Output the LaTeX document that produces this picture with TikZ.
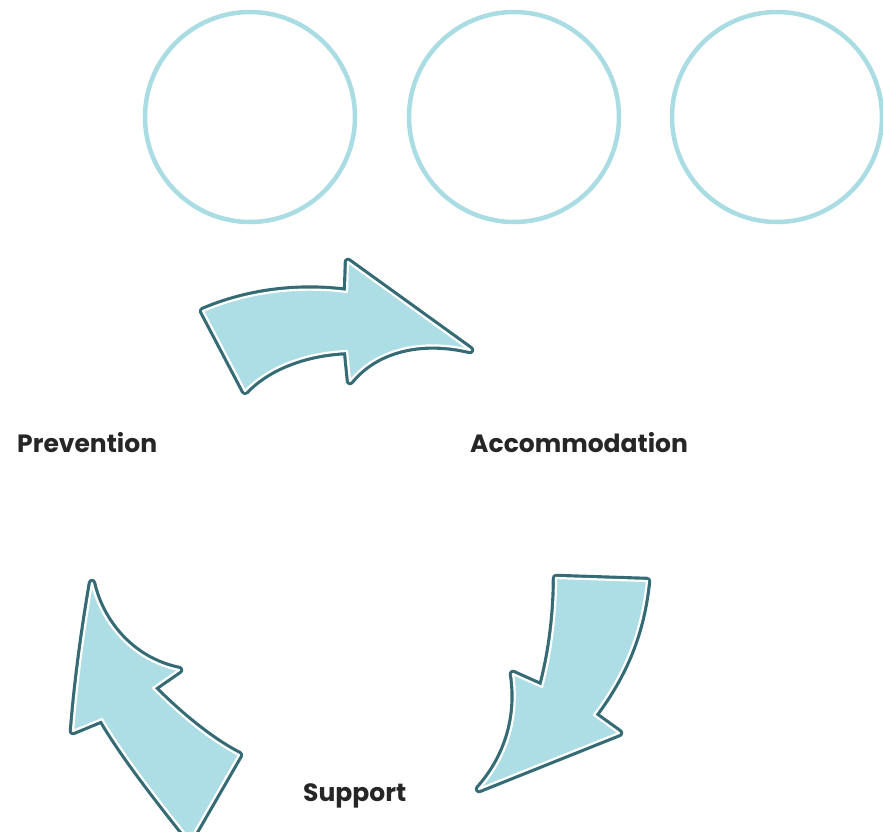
\documentclass[tikz,border=0pt]{standalone}
\usepackage{fontspec}
\setmainfont{Poppins}
\definecolor{ringblue}{HTML}{A9DCE3}
\definecolor{arrowfill}{HTML}{ADDEE5}
\definecolor{arrowedge}{HTML}{356B75}
\tikzset{
  ring/.style={circle, draw=ringblue, line width=4.5pt, minimum size=210pt, inner sep=0pt},
  label/.style={font=\fontsize{25}{29}\selectfont\bfseries, text=black!85, inner sep=0pt},
  arrowouter/.style={draw=arrowedge, line width=8.5pt, line join=round},
  arrowinner/.style={fill=arrowfill, draw=white, line width=2.2pt, line join=round}
}
\begin{document}
\begin{tikzpicture}[x=1pt,y=-1pt]
\useasboundingbox (0,0) rectangle (883,832);
\begin{scope}
\clip (0,0) rectangle (883,832);
\node[ring] (c1) at (250,117) {};
\node[ring] (c2) at (514,117) {};
\node[ring] (c3) at (777,117) {};
% top arrow
\def\toparrow{(203,311) .. controls (250,291) and (300,286) .. (347,292) -- (348,262) -- (470,350) .. controls (420,338) and (375,350) .. (350,381) -- (347,351) .. controls (300,353) and (265,370) .. (245,391) -- cycle}
\draw[arrowouter] \toparrow;
\path[arrowinner] \toparrow;
% right arrow
\def\rightarrow{(556,578) -- (647,581) .. controls (641,640) and (620,680) .. (594,715) -- (619,733) -- (479,789) .. controls (505,760) and (520,720) .. (513,674) -- (542,687) .. controls (552,650) and (556,610) .. cycle}
\draw[arrowouter] \rightarrow;
\path[arrowinner] \rightarrow;
% left arrow
\def\leftarrow{(92,583) .. controls (100,620) and (130,660) .. (179,670) -- (153,688) .. controls (180,715) and (210,740) .. (239,755) -- (190,840) .. controls (150,790) and (120,750) .. (102,719) -- (73,731) .. controls (77,680) and (84,630) .. cycle}
\draw[arrowouter] \leftarrow;
\path[arrowinner] \leftarrow;
\end{scope}
\node[label, anchor=west] (prev) at (17,443) {Prevention};
\node[label, anchor=west] (acc) at (470,443) {Accommodation};
\node[label, anchor=west] (sup) at (303,796) {Support};
\end{tikzpicture}
\end{document}
